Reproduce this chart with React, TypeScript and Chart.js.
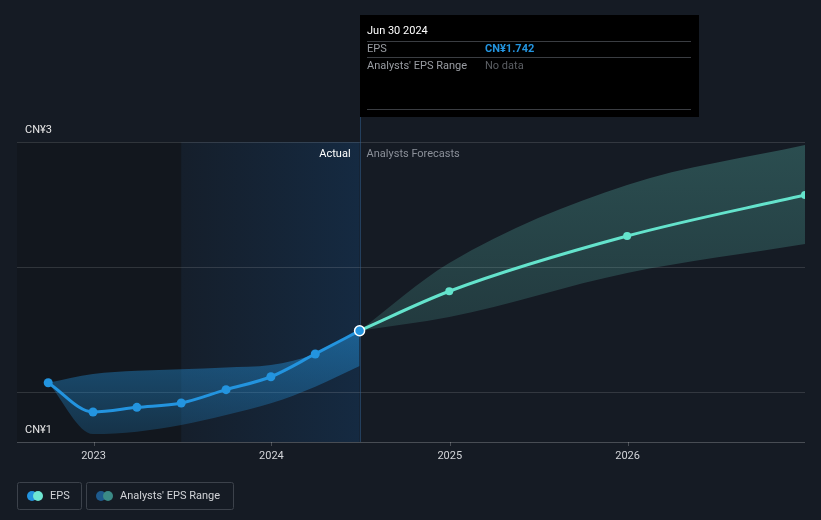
import React, { useEffect, useRef } from "react";
import { Chart, registerables } from "chart.js";

Chart.register(...registerables);

// ---- data ----
const actualDates = ["2022-09-30", "2022-12-31", "2023-03-31", "2023-06-30", "2023-09-30", "2023-12-31", "2024-03-31", "2024-06-30"];
const actualEps = [1.395, 1.2, 1.231, 1.26, 1.349, 1.435, 1.587, 1.742];
const actualRangeLow = [1.395, 1.053, 1.069, 1.113, 1.18, 1.258, 1.369, 1.507];
const actualRangeHigh = [1.395, 1.453, 1.475, 1.485, 1.497, 1.513, 1.587, 1.742];

const forecastDates = ["2024-06-30", "2024-12-31", "2025-12-31", "2026-12-31"];
const forecastEps = [1.742, 2.005, 2.373, 2.647];
const forecastLow = [1.742, 1.833, 2.127, 2.32];
const forecastHigh = [1.742, 2.193, 2.713, 2.98];

const yearTicks = ["2023", "2024", "2025", "2026"];
const yLabels = [
  { value: 3, text: "CN¥3" },
  { value: 1, text: "CN¥1" },
];
const gridValues = [3, 2.1667, 1.3333];

const xMin = "2022-07-28";
const xMax = "2026-12-31";
const highlightStart = "2023-06-30";
const highlightEnd = "2024-06-30";

const tooltipTitle = "Jun 30 2024";
const tooltipEpsLabel = "EPS";
const tooltipEpsValue = "CN¥1.742";
const tooltipRangeLabel = "Analysts' EPS Range";
const tooltipRangeValue = "No data";

const toX = (d: string) => Date.parse(d + "T00:00:00Z");
const pts = (dates: string[], vals: number[]) => dates.map((d, i) => ({ x: toX(d), y: vals[i] }));

const BLUE = "#2394df";
const TEAL = "#64e3cc";
const BG = "#151b24";
const FONT = "Roboto, 'Noto Sans', sans-serif";

const overlayPlugin = {
  id: "overlay",
  beforeDraw(chart: any) {
    const ctx = chart.ctx;
    ctx.save();
    ctx.fillStyle = BG;
    ctx.fillRect(0, 0, chart.width, chart.height);
    ctx.restore();
  },
  beforeDatasetsDraw(chart: any) {
    const ctx = chart.ctx;
    const { left, right, top, bottom } = chart.chartArea;
    const xs = chart.scales.x;
    const ys = chart.scales.y;
    const hx0 = xs.getPixelForValue(toX(highlightStart));
    const hx1 = xs.getPixelForValue(toX(highlightEnd));
    ctx.save();
    // darker past region
    ctx.fillStyle = "rgba(0,0,0,0.14)";
    ctx.fillRect(left, top, hx0 - left, bottom - top);
    // highlighted last-year region
    const g = ctx.createLinearGradient(hx0, 0, hx1, 0);
    g.addColorStop(0, "rgba(20,100,180,0.05)");
    g.addColorStop(1, "rgba(20,110,200,0.18)");
    ctx.fillStyle = g;
    ctx.fillRect(hx0, top, hx1 - hx0, bottom - top);
    // grid lines
    ctx.strokeStyle = "rgba(255,255,255,0.13)";
    ctx.lineWidth = 1;
    gridValues.forEach((v) => {
      const y = Math.round(ys.getPixelForValue(v)) + 0.5;
      ctx.beginPath();
      ctx.moveTo(left, y);
      ctx.lineTo(right, y);
      ctx.stroke();
    });
    // axis line
    ctx.strokeStyle = "rgba(255,255,255,0.22)";
    const ay = Math.round(bottom) + 0.5;
    ctx.beginPath();
    ctx.moveTo(left, ay);
    ctx.lineTo(right, ay);
    ctx.stroke();
    // x ticks
    yearTicks.forEach((yr) => {
      const x = Math.round(xs.getPixelForValue(toX(yr + "-01-01"))) + 0.5;
      ctx.beginPath();
      ctx.moveTo(x, bottom);
      ctx.lineTo(x, bottom + 4);
      ctx.stroke();
    });
    // hover / divider line
    ctx.strokeStyle = "rgba(50,100,150,0.5)";
    const vx = Math.round(hx1) + 0.5;
    ctx.beginPath();
    ctx.moveTo(vx, 15);
    ctx.lineTo(vx, bottom);
    ctx.stroke();
    ctx.restore();
  },
  afterDatasetsDraw(chart: any) {
    const ctx = chart.ctx;
    const { left, bottom, top } = chart.chartArea;
    const xs = chart.scales.x;
    const ys = chart.scales.y;
    const hx1 = xs.getPixelForValue(toX(highlightEnd));
    ctx.save();
    ctx.textBaseline = "middle";
    ctx.font = `11px ${FONT}`;
    // y labels
    ctx.fillStyle = "#e6e6e6";
    ctx.textAlign = "left";
    yLabels.forEach((l) => {
      const y = ys.getPixelForValue(l.value);
      ctx.fillText(l.text, left + 8, y - 12);
    });
    // x labels
    ctx.fillStyle = "#d2d4d8";
    ctx.textAlign = "center";
    yearTicks.forEach((yr) => {
      const x = xs.getPixelForValue(toX(yr + "-01-01"));
      ctx.fillText(yr, x, bottom + 14);
    });
    // Actual / Forecast labels
    ctx.textAlign = "right";
    ctx.fillStyle = "#ffffff";
    ctx.fillText("Actual", hx1 - 9, top + 12);
    ctx.textAlign = "left";
    ctx.fillStyle = "#8b9099";
    ctx.fillText("Analysts Forecasts", hx1 + 7, top + 12);

    // tooltip
    const tx = Math.round(hx1);
    const tw = 339;
    ctx.fillStyle = "#000000";
    ctx.fillRect(tx, 15, tw, 102);
    ctx.strokeStyle = "#3a3d42";
    ctx.lineWidth = 1;
    [41.5, 57.5, 109.5].forEach((y) => {
      ctx.beginPath();
      ctx.moveTo(tx + 7, y);
      ctx.lineTo(tx + tw - 8, y);
      ctx.stroke();
    });
    ctx.fillStyle = "#ffffff";
    ctx.font = `11px ${FONT}`;
    ctx.fillText(tooltipTitle, tx + 7, 31);
    ctx.fillStyle = "#9a9da3";
    ctx.fillText(tooltipEpsLabel, tx + 7, 49);
    ctx.fillText(tooltipRangeLabel, tx + 7, 66);
    ctx.fillStyle = BLUE;
    ctx.font = `bold 11px ${FONT}`;
    ctx.fillText(tooltipEpsValue, tx + 125, 49);
    ctx.fillStyle = "#5c5f64";
    ctx.font = `11px ${FONT}`;
    ctx.fillText(tooltipRangeValue, tx + 125, 66);

    // legend
    const drawBox = (x: number, w: number) => {
      ctx.strokeStyle = "#3c424b";
      ctx.lineWidth = 1;
      ctx.beginPath();
      (ctx as any).roundRect(x + 0.5, 482.5, w, 27, 2);
      ctx.stroke();
    };
    const dot = (x: number, c: string) => {
      ctx.fillStyle = c;
      ctx.beginPath();
      ctx.arc(x, 496, 5, 0, Math.PI * 2);
      ctx.fill();
    };
    drawBox(17, 64);
    dot(32, BLUE);
    dot(38, "#6ee6d2");
    ctx.fillStyle = "#d2d4d8";
    ctx.textAlign = "left";
    ctx.fillText("EPS", 50, 496);
    drawBox(86, 147);
    dot(101, "#1e5a8c");
    dot(108, "#3b8a86");
    ctx.fillStyle = "#d2d4d8";
    ctx.fillText("Analysts' EPS Range", 120, 496);
    ctx.restore();
  },
};

export default function App() {
  const ref = useRef<HTMLCanvasElement | null>(null);
  useEffect(() => {
    if (!ref.current) return;
    const blueBand = (c: any) => {
      const ch = c.chart;
      const a = ch.chartArea;
      if (!a) return "rgba(35,148,223,0.35)";
      const y0 = ch.scales.y.getPixelForValue(1.75);
      const y1 = ch.scales.y.getPixelForValue(1.05);
      const g = ch.ctx.createLinearGradient(0, y0, 0, y1);
      g.addColorStop(0, "rgba(35,148,223,0.5)");
      g.addColorStop(1, "rgba(35,148,223,0.22)");
      return g;
    };
    const tealBand = (c: any) => {
      const ch = c.chart;
      const a = ch.chartArea;
      if (!a) return "rgba(100,210,195,0.22)";
      const y0 = ch.scales.y.getPixelForValue(3);
      const y1 = ch.scales.y.getPixelForValue(1.75);
      const g = ch.ctx.createLinearGradient(0, y0, 0, y1);
      g.addColorStop(0, "rgba(100,210,195,0.28)");
      g.addColorStop(1, "rgba(100,210,195,0.17)");
      return g;
    };
    const chart = new Chart(ref.current, {
      type: "line",
      data: {
        datasets: [
          {
            label: "Actual range low",
            data: pts(actualDates, actualRangeLow),
            borderWidth: 0,
            pointRadius: 0,
            fill: false,
            cubicInterpolationMode: "monotone",
            order: 5,
          },
          {
            label: "Actual range high",
            data: pts(actualDates, actualRangeHigh),
            borderWidth: 0,
            pointRadius: 0,
            fill: "-1",
            backgroundColor: blueBand,
            cubicInterpolationMode: "monotone",
            order: 5,
          },
          {
            label: "Forecast range low",
            data: pts(forecastDates, forecastLow),
            borderWidth: 0,
            pointRadius: 0,
            fill: false,
            cubicInterpolationMode: "monotone",
            order: 5,
          },
          {
            label: "Forecast range high",
            data: pts(forecastDates, forecastHigh),
            borderWidth: 0,
            pointRadius: 0,
            fill: "-1",
            backgroundColor: tealBand,
            cubicInterpolationMode: "monotone",
            order: 5,
          },
          {
            label: "EPS forecast",
            data: pts(forecastDates, forecastEps),
            borderColor: TEAL,
            backgroundColor: TEAL,
            borderWidth: 3,
            pointRadius: forecastDates.map((_, i) => (i === 0 ? 0 : 4)),
            pointBorderWidth: 0,
            fill: false,
            cubicInterpolationMode: "monotone",
            order: 2,
          },
          {
            label: "EPS",
            data: pts(actualDates, actualEps),
            borderColor: BLUE,
            backgroundColor: BLUE,
            borderWidth: 3,
            pointRadius: actualDates.map((_, i) => (i === actualDates.length - 1 ? 5 : 4.5)),
            pointBorderWidth: actualDates.map((_, i) => (i === actualDates.length - 1 ? 1.5 : 0)),
            pointBorderColor: actualDates.map((_, i) => (i === actualDates.length - 1 ? "#ffffff" : BLUE)),
            pointBackgroundColor: BLUE,
            fill: false,
            cubicInterpolationMode: "monotone",
            order: 1,
          },
        ],
      },
      options: {
        responsive: false,
        devicePixelRatio: 1,
        animation: false,
        events: [],
        layout: { padding: { left: 17, right: 16, top: 142, bottom: 78 } },
        plugins: { legend: { display: false }, tooltip: { enabled: false } },
        scales: {
          x: { type: "linear", display: false, min: toX(xMin), max: toX(xMax) },
          y: { type: "linear", display: false, min: 1, max: 3 },
        },
      },
      plugins: [overlayPlugin],
    } as any);
    return () => chart.destroy();
  }, []);
  return (
    <div style={{ position: "fixed", left: 0, top: 0, width: 821, height: 520, background: BG }}>
      <canvas ref={ref} width={821} height={520} style={{ display: "block", width: 821, height: 520 }} />
    </div>
  );
}
